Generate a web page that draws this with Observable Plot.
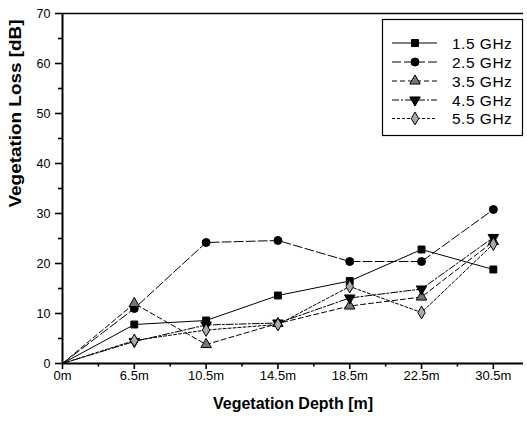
<!DOCTYPE html>
<html>
<head>
<meta charset="utf-8">
<script src="https://cdn.jsdelivr.net/npm/d3@7"></script>
<script src="https://cdn.jsdelivr.net/npm/@observablehq/plot@0.6"></script>
<style>
  html, body { margin: 0; padding: 0; background: #fff; }
  svg { display: block; }
</style>
</head>
<body>
<div id="chart"></div>
<script>
// ---- data ----
const depths = ["0m", "6.5m", "10.5m", "14.5m", "18.5m", "22.5m", "30.5m"];
const seriesNames = ["1.5 GHz", "2.5 GHz", "3.5 GHz", "4.5 GHz", "5.5 GHz"];
const loss15 = [0, 7.8, 8.6, 13.6, 16.5, 22.8, 18.8];
const loss25 = [0, 11.0, 24.2, 24.6, 20.4, 20.4, 30.8];
const loss35 = [0, 12.0, 3.8, 8.0, 11.5, 13.3, 24.4];
const loss45 = [0, 4.4, 7.7, 8.1, 13.1, 14.9, 25.2];
const loss55 = [0, 4.6, 6.7, 7.8, 15.4, 10.2, 23.9];
const yTicks = [0, 10, 20, 30, 40, 50, 60, 70];
const yMinor = [5, 15, 25, 35, 45, 55, 65];
const xMinor = [0.5, 1.5, 2.5, 3.5, 4.5, 5.5];

const values = [loss15, loss25, loss35, loss45, loss55];

// custom downward triangle symbol
const triDown = {
  draw(ctx, size) {
    const a = Math.sqrt(4 * size / Math.sqrt(3));
    const h = a * Math.sqrt(3) / 2;
    ctx.moveTo(-a / 2, -h / 3);
    ctx.lineTo(a / 2, -h / 3);
    ctx.lineTo(0, 2 * h / 3);
    ctx.closePath();
  }
};

const styles = [
  {symbol: d3.symbolSquare,   r: 3.9, fill: "black", dash: null},
  {symbol: d3.symbolCircle,   r: 4.0, fill: "black", dash: "9,3"},
  {symbol: d3.symbolTriangle, r: 3.9, fill: "#777",  dash: "5,3"},
  {symbol: triDown,           r: 3.9, fill: "black", dash: "7,2,2,2"},
  {symbol: d3.symbolDiamond,  r: 3.9, fill: "#aaa",  dash: "3,2"}
];

const rows = [];
seriesNames.forEach((s, k) => {
  values[k].forEach((v, i) => rows.push({series: s, k, i, depth: depths[i], v}));
});

const font = "'Liberation Sans', Arial, sans-serif";
const narrow = "'Liberation Sans Narrow', 'Liberation Sans', Arial, sans-serif";

const marks = [];
seriesNames.forEach((s, k) => {
  const d = rows.filter(r => r.k === k);
  marks.push(Plot.line(d, {
    x: "i", y: "v", stroke: "black", strokeWidth: 1,
    strokeDasharray: styles[k].dash
  }));
});
seriesNames.forEach((s, k) => {
  const d = rows.filter(r => r.k === k && r.i > 0);
  marks.push(Plot.dot(d, {
    x: "i", y: "v", symbol: styles[k].symbol, r: styles[k].r,
    fill: styles[k].fill, stroke: "black", strokeWidth: 1
  }));
});

const chart = Plot.plot({
  width: 527,
  height: 424,
  marginLeft: 62,
  marginRight: 4,
  marginTop: 13,
  marginBottom: 61,
  style: {fontFamily: font, background: "#fff", color: "black"},
  x: {type: "linear", domain: [0, 6.42]},
  y: {type: "linear", domain: [0, 70]},
  marks: [
    Plot.axisX(d3.range(depths.length), {
      tickSize: 6, tickPadding: 1, tickFormat: i => depths[i],
      fontSize: 13, fontFamily: narrow, label: null, strokeWidth: 1.6
    }),
    Plot.axisX(xMinor, {tickSize: 3.5, strokeWidth: 1.6, tickFormat: () => "", label: null}),
    Plot.axisY(yTicks, {
      tickSize: 7, tickPadding: 5, fontSize: 12.5, label: null, strokeWidth: 1.6
    }),
    Plot.axisY(yMinor, {tickSize: 4, strokeWidth: 1.6, tickFormat: () => "", label: null}),
    Plot.ruleY([0], {strokeWidth: 2}),
    Plot.ruleX([0], {strokeWidth: 2}),
    Plot.ruleY([70], {strokeWidth: 1.6}),
    ...marks,
    Plot.text(["Vegetation Depth [m]"], {
      frameAnchor: "bottom", dy: 45, fontSize: 16, fontWeight: "bold"
    }),
    Plot.text(["Vegetation Loss [dB]"], {
      frameAnchor: "left", dx: -47, dy: 19, rotate: -90, fontSize: 16, fontWeight: "bold"
    })
  ]
});

document.getElementById("chart").appendChild(chart);

// stretch y title like the scan
d3.select(chart).selectAll("text").filter(function () {
  return this.textContent === "Vegetation Loss [dB]";
}).attr("textLength", 188).attr("lengthAdjust", "spacingAndGlyphs");

// ---- legend ----
const svg = d3.select(chart);
const lg = svg.append("g").attr("class", "legend").attr("text-anchor", "start");
lg.append("rect")
  .attr("x", 382.5).attr("y", 19.5).attr("width", 140).attr("height", 116)
  .attr("fill", "white").attr("stroke", "black").attr("stroke-width", 1.2);
const rowY = [43, 62, 81, 100, 118.5];
seriesNames.forEach((s, k) => {
  const y = rowY[k];
  lg.append("line")
    .attr("x1", 392).attr("x2", 437).attr("y1", y).attr("y2", y)
    .attr("stroke", "black").attr("stroke-width", 1)
    .attr("stroke-dasharray", styles[k].dash);
  lg.append("path")
    .attr("transform", `translate(415,${y})`)
    .attr("d", d3.symbol(styles[k].symbol, Math.PI * styles[k].r * styles[k].r)())
    .attr("fill", styles[k].fill).attr("stroke", "black").attr("stroke-width", 1);
  lg.append("text")
    .attr("x", 452).attr("y", y).attr("dy", "0.36em")
    .attr("text-anchor", "start")
    .attr("font-size", 15.5).attr("letter-spacing", 0.5)
    .attr("font-family", font)
    .text(s);
});
</script>
</body>
</html>
